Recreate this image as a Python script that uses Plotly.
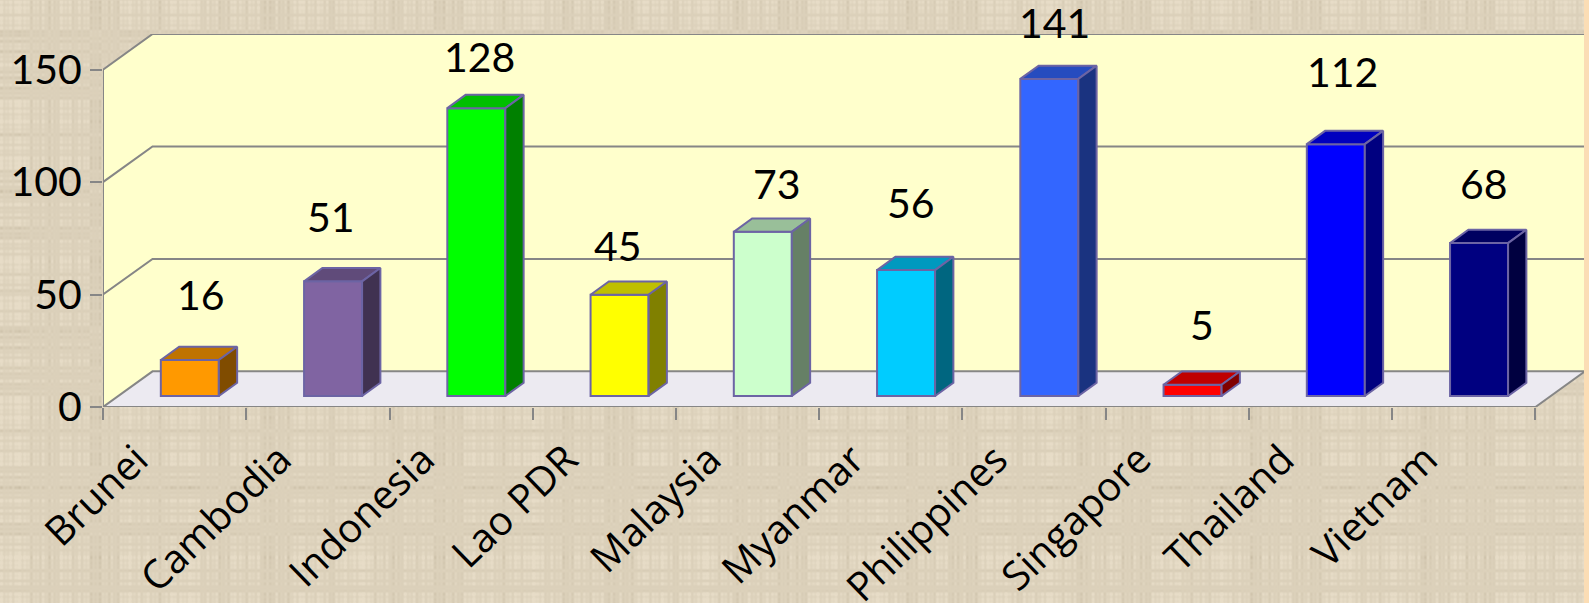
import base64, struct, zlib
import numpy as np
import plotly.graph_objects as go

categories = ["Brunei", "Cambodia", "Indonesia", "Lao PDR", "Malaysia",
              "Myanmar", "Philippines", "Singapore", "Thailand", "Vietnam"]
values = [16, 51, 128, 45, 73, 56, 141, 5, 112, 68]
front_colors = ["#FF9900", "#8064A2", "#00FF00", "#FFFF00", "#CCFFCC",
                "#00CCFF", "#3366FF", "#FF0000", "#0000FF", "#000080"]
label_dx_px = [11, -2, 3, -2, 14, 5, 5, 9, 7, 5]
label_dy_px = [66, 65, 52, 49, 48, 68, 56, 60, 73, 60]
y_ticks = [0, 50, 100, 150]

W, H = 1589, 603
LEFT, RIGHT, TOP, BOTTOM = 103.1, 1585.0, 33.5, 406.7
BAND = 143.2
UNIT = 2.252
DX = 49.5 / BAND      # wall depth, in category units
DY = 35.7 / UNIT      # wall depth, in value units
XMAX = 10 + DX
YMAX = 150 + DY

BAR_W = 0.405
BAR_OFF_X = 15.2 / BAND
BAR_BASE = 11 / UNIT
BAR_DX = 18.3 / BAND
BAR_DY = 13.3 / UNIT

AXIS = "#868686"
EDGE = "#6C64A4"
NUM_FONT = dict(family="Lato", size=41, color="black")
CAT_FONT = dict(family="Open Sans", size=40, color="black")


def shade(col, k):
    r, g, b = (int(col[i:i + 2], 16) for i in (1, 3, 5))
    return "#%02X%02X%02X" % (round(r * k), round(g * k), round(b * k))


def texture():
    yy = np.arange(H)
    xx = np.arange(W)
    col = (np.sin(xx * 1.37) + np.sin(xx * 0.731 + 1) + np.sin(xx * 0.293 + 2) * 0.8
           + np.sin(xx * 0.109) * 0.9 + np.sin(xx * 0.037 + 1.3) * 0.7)
    row = (np.sin(yy * 1.21) + np.sin(yy * 0.677 + 2) + np.sin(yy * 0.317 + 0.5) * 0.8
           + np.sin(yy * 0.127) * 0.9 + np.sin(yy * 0.043 + 2.1) * 0.7)
    v = np.outer(row, np.ones(W)) * 0.35 + np.outer(np.ones(H), col) * 0.35
    v += 0.3 * np.outer(row, col)
    v = np.clip(v, -6, 2.0)
    base = np.array([222.0, 211.0, 189.0])
    shade_rgb = np.array([1.0, 1.05, 1.15])
    img = base[None, None, :] + (v * 4.5)[:, :, None] * shade_rgb
    img = np.clip(img, 0, 255).astype(np.uint8)
    raw = b"".join(b"\x00" + img[i].tobytes() for i in range(H))

    def chunk(t, d):
        return struct.pack(">I", len(d)) + t + d + struct.pack(">I", zlib.crc32(t + d))

    png = (b"\x89PNG\r\n\x1a\n" + chunk(b"IHDR", struct.pack(">IIBBBBB", W, H, 8, 2, 0, 0, 0))
           + chunk(b"IDAT", zlib.compress(raw, 6)) + chunk(b"IEND", b""))
    return "data:image/png;base64," + base64.b64encode(png).decode()


def poly(pts):
    return "M " + " L ".join(f"{x},{y}" for x, y in pts) + " Z"


def line_path(pts):
    return "M " + " L ".join(f"{x},{y}" for x, y in pts)


fig = go.Figure()

# front faces: real bars
fig.add_trace(go.Bar(
    x=[i + 0.5 + BAR_OFF_X for i in range(len(values))], y=values, base=BAR_BASE, width=BAR_W,
    marker=dict(color=front_colors, line=dict(color=EDGE, width=2)),
    hoverinfo="skip", showlegend=False, cliponaxis=False))

# top and side faces derived from the values
for i, (v, c) in enumerate(zip(values, front_colors)):
    x0 = i + 0.5 + BAR_OFF_X - BAR_W / 2
    x1 = x0 + BAR_W
    y0, y1 = BAR_BASE, BAR_BASE + v
    fig.add_trace(go.Scatter(
        x=[x0, x1, x1 + BAR_DX, x0 + BAR_DX, x0], y=[y1, y1, y1 + BAR_DY, y1 + BAR_DY, y1],
        mode="lines", fill="toself", fillcolor=shade(c, 0.75), line=dict(color=EDGE, width=2),
        hoverinfo="skip", showlegend=False, cliponaxis=False))
    fig.add_trace(go.Scatter(
        x=[x1, x1 + BAR_DX, x1 + BAR_DX, x1, x1], y=[y0, y0 + BAR_DY, y1 + BAR_DY, y1, y0],
        mode="lines", fill="toself", fillcolor=shade(c, 0.5), line=dict(color=EDGE, width=2),
        hoverinfo="skip", showlegend=False, cliponaxis=False))
    fig.add_annotation(x=i + 0.5 + BAR_OFF_X, y=y1, text=str(v), showarrow=False, font=NUM_FONT,
                       xanchor="center", yanchor="middle",
                       xshift=label_dx_px[i], yshift=label_dy_px[i])

# invisible trace that keeps the label axis alive
fig.add_trace(go.Scatter(x=[0], y=[0], xaxis="x2", mode="markers", marker=dict(opacity=0),
                         hoverinfo="skip", showlegend=False))

shapes = [
    dict(type="path", path=poly([(DX, DY), (XMAX, DY), (XMAX, YMAX), (DX, YMAX)]),
         fillcolor="#FFFFCC", line=dict(width=0), layer="below"),
    dict(type="path", path=poly([(0, 0), (DX + 0.01, DY), (DX + 0.01, YMAX), (0, 150)]),
         fillcolor="#FFFFCC", line=dict(width=0), layer="below"),
    dict(type="path", path=poly([(0, 0), (10, 0), (XMAX, DY), (DX, DY)]),
         fillcolor="#ECEAF1", line=dict(width=0), layer="below"),
]
for t in y_ticks:
    shapes.append(dict(type="path", path=line_path([(0, t), (DX, t + DY), (XMAX, t + DY)]),
                       line=dict(color=AXIS, width=2), layer="below"))
shapes.append(dict(type="path", path=line_path([(0, 150), (0, 0), (10, 0), (XMAX, DY)]),
                   line=dict(color=AXIS, width=2), layer="below"))
# thin peach strip on the right edge of the page
shapes.append(dict(type="rect", xref="paper", yref="paper",
                   x0=1 - 1 / (RIGHT - LEFT), x1=1 + (W - RIGHT) / (RIGHT - LEFT),
                   y0=-BOTTOM, y1=3, fillcolor="#FBDDB5", line=dict(width=0), layer="above"))

plot_w, plot_h = RIGHT - LEFT, BOTTOM - TOP
fig.update_layout(
    width=W, height=H, autosize=False,
    margin=dict(l=LEFT, r=W - RIGHT, t=TOP, b=H - BOTTOM, pad=0, autoexpand=False),
    paper_bgcolor="#DED3BD", plot_bgcolor="rgba(0,0,0,0)",
    shapes=shapes, barmode="overlay",
    images=[dict(source=texture(), xref="paper", yref="paper", x=-LEFT / plot_w, y=1 + TOP / plot_h,
                 sizex=W / plot_w, sizey=H / plot_h, xanchor="left", yanchor="top",
                 sizing="stretch", layer="below")],
    xaxis=dict(range=[0, XMAX], tickmode="array", tickvals=list(range(11)), ticktext=[""] * 11,
               ticks="outside", ticklen=12, tickwidth=2, tickcolor=AXIS, automargin=False,
               showgrid=False, zeroline=False, showline=False),
    xaxis2=dict(range=[0, XMAX], overlaying="x", side="bottom", anchor="y",
                tickmode="array", tickvals=[i + 0.5 - 0.265 for i in range(10)], ticktext=categories,
                tickangle=-44, ticks="outside", ticklen=12, tickcolor="rgba(0,0,0,0)", automargin=False,
                tickfont=CAT_FONT, showgrid=False, zeroline=False, showline=False),
    yaxis=dict(range=[0, YMAX], tickmode="array", tickvals=y_ticks, ticks="outside", ticklen=12,
               tickwidth=2, tickcolor=AXIS, tickfont=NUM_FONT, automargin=False,
               showgrid=False, zeroline=False, showline=False),
)
fig.write_html("out.html", config=dict(displayModeBar=False),
               post_script="document.documentElement.style.margin='0';document.body.style.margin='0';")
